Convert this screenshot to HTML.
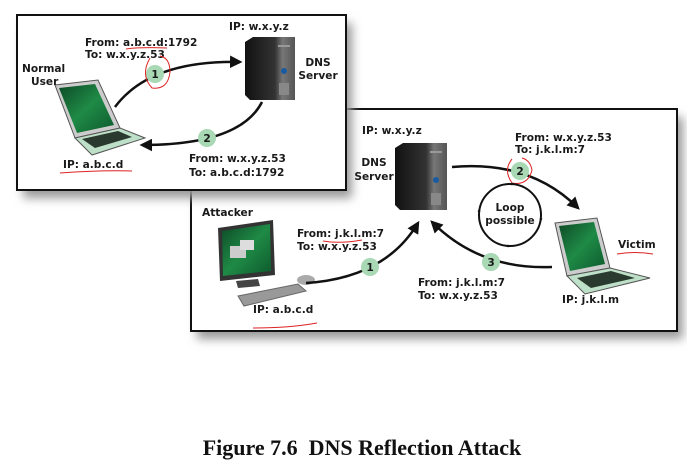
<!DOCTYPE html>
<html><head><meta charset="utf-8"><style>
html,body{margin:0;padding:0;background:#fff}
svg{display:block}
text{font-family:"DejaVu Sans","Liberation Sans",sans-serif;font-weight:bold;font-size:10.6px;fill:#1a1a1a}
.c{text-anchor:middle}
</style></head><body>
<svg width="687" height="476" viewBox="0 0 687 476" xmlns="http://www.w3.org/2000/svg">
<defs>
<filter id="sh" x="-10%" y="-10%" width="125%" height="130%"><feGaussianBlur stdDeviation="5"/></filter>
<marker id="ar" viewBox="0 0 10 10" refX="8" refY="5" markerWidth="5" markerHeight="5" orient="auto"><path d="M0,0 L10,5 L0,10 z" fill="#111"/></marker>
<marker id="as" viewBox="0 0 10 10" refX="5" refY="5" markerWidth="3" markerHeight="3" orient="auto"><path d="M0,0 L10,5 L0,10 z" fill="#111"/></marker>
<linearGradient id="srv" x1="0" x2="1"><stop offset="0" stop-color="#111"/><stop offset="0.6" stop-color="#333"/><stop offset="0.75" stop-color="#777"/><stop offset="1" stop-color="#555"/></linearGradient>
<linearGradient id="scr" x1="0" y1="0" x2="1" y2="1"><stop offset="0" stop-color="#0d4a26"/><stop offset="0.5" stop-color="#1f8a46"/><stop offset="1" stop-color="#0d5a2c"/></linearGradient>
</defs>

<rect x="197" y="117" width="486" height="222" fill="#999" filter="url(#sh)"/>
<rect x="191" y="109" width="486" height="222" fill="#fff" stroke="#111" stroke-width="2"/>
<rect x="23" y="23" width="329" height="175" fill="#999" filter="url(#sh)"/>
<rect x="17" y="15" width="329" height="175" fill="#fff" stroke="#111" stroke-width="2"/>

<g transform="translate(245,37)">
<path d="M0,5 L8,0 L50,0 L50,63 L5,63 L0,58z" fill="url(#srv)"/>
<rect x="33" y="8" width="12" height="2" fill="#999"/>
<circle cx="39" cy="34" r="3" fill="#1a5aa0"/>
<rect x="34" y="46" width="10" height="12" fill="#888"/>
</g>
<g transform="translate(50,80)">
<path d="M5,5 L48,0 L70,48 L25,58z" fill="#ccc" stroke="#555"/>
<path d="M9,8 L45,4 L64,45 L27,53z" fill="url(#scr)"/>
<path d="M25,58 L70,48 L95,58 L42,75z" fill="#bfe0c8" stroke="#555"/>
<path d="M32,59 L68,51 L82,57 L45,68z" fill="#2a3a2e"/>
</g>
<text x="229" y="30">IP: w.x.y.z</text>
<text x="318" y="66" class="c">DNS</text>
<text x="318" y="79" class="c">Server</text>
<text x="22" y="72">Normal</text>
<text x="31" y="85">User</text>
<text x="85" y="46">From: a.b.c.d:1792</text>
<text x="85" y="58">To: w.x.y.z.53</text>
<path d="M115,107 Q150,60 240,62" fill="none" stroke="#111" stroke-width="2.5" marker-end="url(#ar)"/>
<circle cx="155" cy="74" r="9" fill="#a8d8b4"/><text x="155" y="78" class="c">1</text>
<path d="M262,102 Q240,145 142,145" fill="none" stroke="#111" stroke-width="2.5" marker-end="url(#ar)"/>
<circle cx="207" cy="138" r="9" fill="#a8d8b4"/><text x="207" y="142" class="c">2</text>
<text x="63" y="168">IP: a.b.c.d</text>
<text x="189" y="162">From: w.x.y.z.53</text>
<text x="189" y="176">To: a.b.c.d:1792</text>
<path d="M126,49 Q140,47 167,48" fill="none" stroke="#d22" stroke-width="1"/>
<path d="M150,58 Q140,75 152,88 Q168,90 170,72 Q170,58 160,56" fill="none" stroke="#d22" stroke-width="1"/>
<path d="M60,173 Q100,170 132,171" fill="none" stroke="#d22" stroke-width="1"/>

<g transform="translate(395,143)">
<path d="M0,5 L8,0 L52,0 L52,67 L5,67 L0,62z" fill="url(#srv)"/>
<rect x="35" y="8" width="12" height="2" fill="#999"/>
<circle cx="41" cy="37" r="3" fill="#1a5aa0"/>
<rect x="36" y="50" width="10" height="12" fill="#888"/>
</g>
<text x="362" y="134">IP: w.x.y.z</text>
<text x="374" y="166" class="c">DNS</text>
<text x="374" y="180" class="c">Server</text>
<text x="515" y="141">From: w.x.y.z.53</text>
<text x="515" y="153">To: j.k.l.m:7</text>
<path d="M452,167 Q530,160 578,208" fill="none" stroke="#111" stroke-width="2.5" marker-end="url(#ar)"/>
<circle cx="520" cy="171" r="9" fill="#a8d8b4"/><text x="520" y="175" class="c">2</text>
<path d="M512,159 Q503,170 512,183 Q528,186 532,170 Q530,160 522,158" fill="none" stroke="#d22" stroke-width="1"/>
<circle cx="510" cy="215" r="31" fill="none" stroke="#111" stroke-width="2"/>
<path d="M505,184 L513,184" stroke="#111" marker-end="url(#as)"/>
<path d="M541,212 L541,220" stroke="#111" marker-end="url(#as)"/>
<path d="M515,246 L507,246" stroke="#111" marker-end="url(#as)"/>
<path d="M479,218 L479,210" stroke="#111" marker-end="url(#as)"/>
<text x="510" y="211" class="c">Loop</text>
<text x="510" y="224" class="c">possible</text>

<g transform="translate(218,220)">
<path d="M0,8 L55,0 L57,55 L2,61z" fill="#333"/>
<path d="M4,11 L52,4 L53,51 L5,56z" fill="url(#scr)"/>
<rect x="12" y="26" width="16" height="12" fill="#ccc"/><rect x="22" y="20" width="14" height="10" fill="#ddd"/>
<path d="M18,61 L40,59 L42,66 L20,68z" fill="#444"/>
<path d="M20,76 L80,64 L88,71 L26,86z" fill="#999" stroke="#666"/>
<ellipse cx="88" cy="60" rx="9" ry="5" fill="#aaa"/>
</g>
<text x="202" y="216">Attacker</text>
<text x="297" y="237">From: j.k.l.m:7</text>
<text x="297" y="250">To: w.x.y.z.53</text>
<path d="M306,283 Q385,278 418,223" fill="none" stroke="#111" stroke-width="2.5" marker-end="url(#ar)"/>
<circle cx="370" cy="267" r="9" fill="#a8d8b4"/><text x="370" y="271" class="c">1</text>
<path d="M552,267 Q480,270 432,222" fill="none" stroke="#111" stroke-width="2.5" marker-end="url(#ar)"/>
<circle cx="491" cy="262" r="9" fill="#a8d8b4"/><text x="491" y="266" class="c">3</text>
<text x="418" y="286">From: j.k.l.m:7</text>
<text x="418" y="299">To: w.x.y.z.53</text>
<text x="253" y="313">IP: a.b.c.d</text>
<path d="M323,241 Q340,244 362,240" fill="none" stroke="#d22" stroke-width="1"/>
<path d="M253,328 Q290,328 317,323" fill="none" stroke="#d22" stroke-width="1"/>

<g transform="translate(555,218)">
<path d="M0,5 L42,0 L55,50 L12,58z" fill="#ccc" stroke="#555"/>
<path d="M4,8 L39,4 L50,46 L15,53z" fill="url(#scr)"/>
<path d="M12,58 L55,50 L95,60 L30,76z" fill="#bfe0c8" stroke="#555"/>
<path d="M22,60 L56,53 L80,60 L36,70z" fill="#2a3a2e"/>
</g>
<text x="618" y="248">Victim</text>
<text x="562" y="303">IP: j.k.l.m</text>
<path d="M617,254 Q635,251 653,254" fill="none" stroke="#d22" stroke-width="1"/>

<text x="362" y="455" class="c" style="font-family:'Liberation Serif',serif;font-size:22px;font-weight:bold;fill:#111">Figure 7.6&#160; DNS Reflection Attack</text>
</svg>
</body></html>
